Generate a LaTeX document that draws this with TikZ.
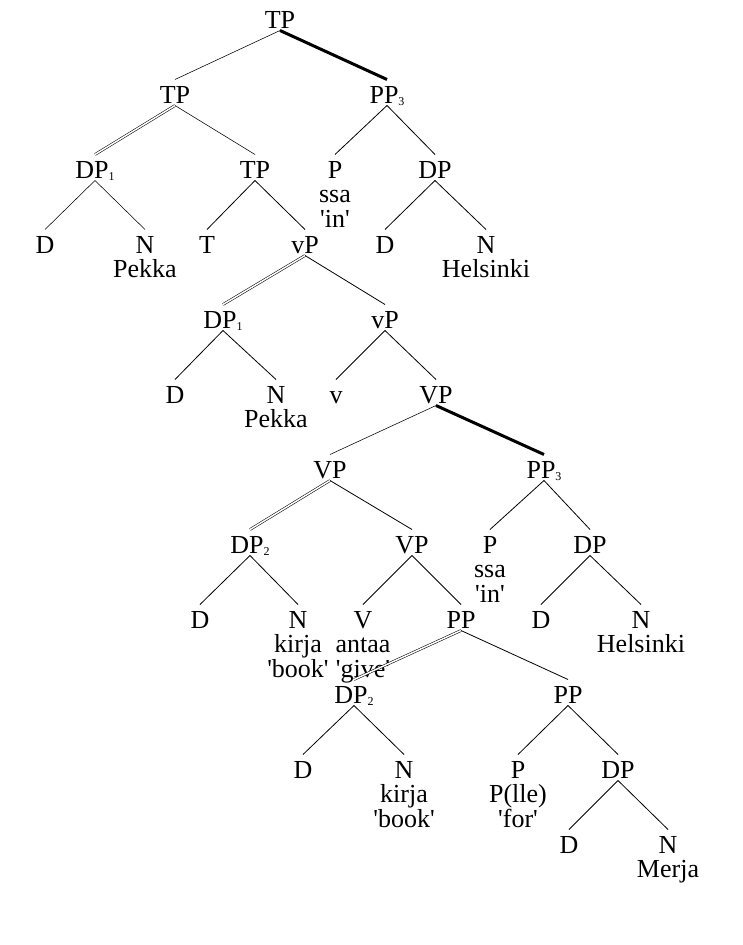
\documentclass[tikz,border=0pt]{standalone}
\usepackage{fontspec}
\setmainfont{Liberation Serif}
\newcommand\fs{\fontsize{26}{26}\selectfont}
\newcommand\subn[1]{\raisebox{-2pt}{\fontsize{12}{12}\selectfont #1}}
\newcommand\q{\textquotesingle}
\tikzset{
  cat/.style={anchor=base, inner sep=0pt, outer xsep=0pt, outer ysep=2.5pt, text height=21pt, text depth=0pt, font=\fs},
  word/.style={anchor=base, inner sep=0pt, font=\fs},
  br/.style={line width=0.8pt},
  thinbr/.style={line width=0.55pt},
  dbl/.style={double, line width=0.55pt, double distance=1.5pt},
  thk/.style={line width=3pt},
}
\begin{document}
\begin{tikzpicture}[x=1pt,y=-1pt]
\fill[white] (0,0) rectangle (743,945);
\useasboundingbox (0,0) rectangle (743,945);
% row 0-1
\node[cat] (tp0) at (280,28) {TP};
\node[cat] (tp1) at (175,103) {TP};
\node[cat] (pp3a) at (387,103) {PP\subn{3}};
% row 2
\node[cat] (dp1a) at (95,178) {DP\subn{1}};
\node[cat] (tp2) at (255,178) {TP};
\node[cat] (pa) at (335,178) {P};
\node[word] (pa1) at (335,202.5) {ssa};
\node[word] (pa2) at (335,227) {\q in\q};
\node[cat] (dpa) at (435,178) {DP};
% row 3
\node[cat] (da) at (45,253) {D};
\node[cat] (na) at (145,253) {N};
\node[word] (na1) at (145,277.5) {Pekka};
\node[cat] (t) at (207,253) {T};
\node[cat] (vp1) at (305,253) {vP};
\node[cat] (db) at (385,253) {D};
\node[cat] (nb) at (486,253) {N};
\node[word] (nb1) at (486,277.5) {Helsinki};
% row 4
\node[cat] (dp1b) at (223,328) {DP\subn{1}};
\node[cat] (vp2) at (385,328) {vP};
% row 5
\node[cat] (dc) at (175,403) {D};
\node[cat] (nc) at (276,403) {N};
\node[word] (nc1) at (276,427.5) {Pekka};
\node[cat] (v) at (336,403) {v};
\node[cat] (VPa) at (436,403) {VP};
% row 6
\node[cat] (VPb) at (330,478) {VP};
\node[cat] (pp3b) at (544,478) {PP\subn{3}};
% row 7
\node[cat] (dp2a) at (250,553) {DP\subn{2}};
\node[cat] (VPc) at (412,553) {VP};
\node[cat] (pb) at (490,553) {P};
\node[word] (pb1) at (490,577.5) {ssa};
\node[word] (pb2) at (490,602) {\q in\q};
\node[cat] (dpb) at (590,553) {DP};
% row 8
\node[cat] (dd) at (200,628) {D};
\node[cat] (nd) at (298,628) {N};
\node[word] (nd1) at (298,652.5) {kirja};
\node[word] (nd2) at (298,677) {\q book\q};
\node[cat] (V) at (363,628) {V};
\node[word] (V1) at (363,652.5) {antaa};
\node[word] (V2) at (363,677) {\q give\q};
\node[cat] (ppa) at (461,628) {PP};
\node[cat] (de) at (541,628) {D};
\node[cat] (ne) at (641,628) {N};
\node[word] (ne1) at (641,652.5) {Helsinki};
% row 9
\node[cat] (dp2b) at (354,703) {DP\subn{2}};
\node[cat] (ppb) at (568,703) {PP};
% row 10
\node[cat] (df) at (303,778) {D};
\node[cat] (nf) at (404,778) {N};
\node[word] (nf1) at (404,802.5) {kirja};
\node[word] (nf2) at (404,827) {\q book\q};
\node[cat] (pc) at (518,778) {P};
\node[word] (pc1) at (518,802.5) {P(lle)};
\node[word] (pc2) at (518,827) {\q for\q};
\node[cat] (dpc) at (618,778) {DP};
% row 11
\node[cat] (dg) at (569,853) {D};
\node[cat] (ng) at (668,853) {N};
\node[word] (ng1) at (668,877.5) {Merja};
% connectors
\draw[thinbr] (tp0.south) -- (tp1.north);
\draw[thk] (tp0.south) -- (pp3a.north);
\draw[dbl] (tp1.south) -- (dp1a.north);
\draw[thinbr] (tp1.south) -- (tp2.north);
\draw[br] (pp3a.south) -- (pa.north);
\draw[br] (pp3a.south) -- (dpa.north);
\draw[thinbr] (dp1a.south) -- (da.north);
\draw[thinbr] (dp1a.south) -- (na.north);
\draw[br] (tp2.south) -- (t.north);
\draw[br] (tp2.south) -- (vp1.north);
\draw[br] (dpa.south) -- (db.north);
\draw[br] (dpa.south) -- (nb.north);
\draw[dbl] (vp1.south) -- (dp1b.north);
\draw[br] (vp1.south) -- (vp2.north);
\draw[br] (dp1b.south) -- (dc.north);
\draw[br] (dp1b.south) -- (nc.north);
\draw[br] (vp2.south) -- (v.north);
\draw[br] (vp2.south) -- (VPa.north);
\draw[thinbr] (VPa.south) -- (VPb.north);
\draw[thk] (VPa.south) -- (pp3b.north);
\draw[dbl] (VPb.south) -- (dp2a.north);
\draw[br] (VPb.south) -- (VPc.north);
\draw[br] (pp3b.south) -- (pb.north);
\draw[br] (pp3b.south) -- (dpb.north);
\draw[br] (dp2a.south) -- (dd.north);
\draw[br] (dp2a.south) -- (nd.north);
\draw[br] (VPc.south) -- (V.north);
\draw[br] (VPc.south) -- (ppa.north);
\draw[br] (dpb.south) -- (de.north);
\draw[br] (dpb.south) -- (ne.north);
\draw[dbl] (ppa.south) -- (dp2b.north);
\draw[br] (ppa.south) -- (ppb.north);
\draw[br] (dp2b.south) -- (df.north);
\draw[br] (dp2b.south) -- (nf.north);
\draw[br] (ppb.south) -- (pc.north);
\draw[br] (ppb.south) -- (dpc.north);
\draw[br] (dpc.south) -- (dg.north);
\draw[br] (dpc.south) -- (ng.north);
\end{tikzpicture}
\end{document}
